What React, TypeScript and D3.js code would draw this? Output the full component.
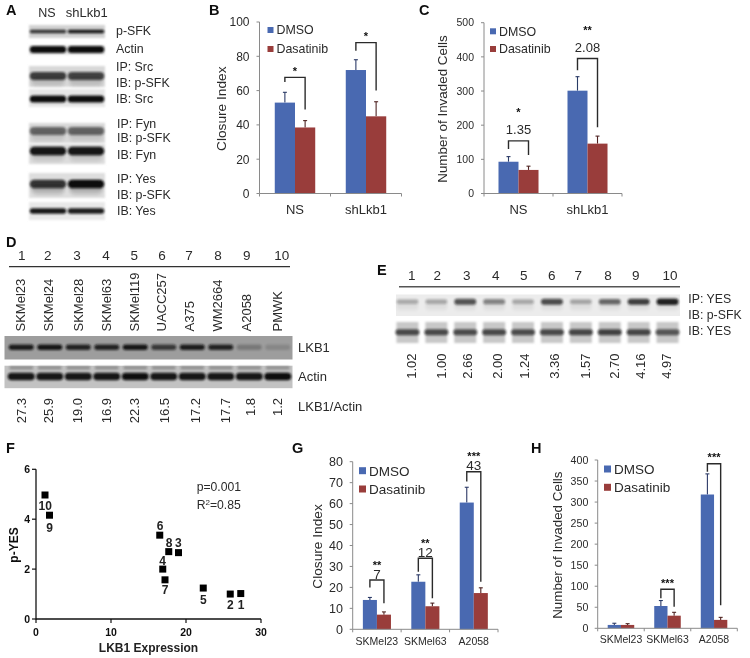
import React from "react";
import * as d3 from "d3";

// ---------- Panel A ----------
const aLanes = ["NS", "shLkb1"];
const aLabels = ["p-SFK", "Actin", "IP: Src", "IB: p-SFK", "IB: Src", "IP: Fyn", "IB: p-SFK", "IB: Fyn", "IP: Yes", "IB: p-SFK", "IB: Yes"];
const aPSfk = [0.8, 0.95];
const aActin = [1, 1];
const aIpSrc = [0.75, 0.72];
const aIbSrc = [1, 1];
const aIpFyn = [0.55, 0.55];
const aIbFyn = [0.95, 0.95];
const aIpYes = [0.8, 1];
const aIbYes = [0.95, 0.92];

// ---------- Panel B ----------
const seriesNames = ["DMSO", "Dasatinib"];
const bCategories = ["NS", "shLkb1"];
const bDmso = [53, 72];
const bDmsoTop = [59, 78];
const bDasatinib = [38.5, 45];
const bDasatinibTop = [42.5, 53.5];
const bTicks = [0, 20, 40, 60, 80, 100];
const bBracketLeft = [65, 83.3];
const bBracketTop = [67.7, 88];
const bBracketRight = [49, 60];
const bStars = ["*", "*"];

// ---------- Panel C ----------
const cDmso = [93, 301];
const cDmsoTop = [108, 342];
const cDasatinib = [69, 146];
const cDasatinibTop = [80, 168];
const cTicks = [0, 100, 200, 300, 400, 500];
const cBracketLeft = [130, 361];
const cBracketTop = [154, 395];
const cBracketRight = [113, 194];
const cStars = ["*", "**"];
const cFold = ["1.35", "2.08"];

// ---------- Panel D ----------
const dLaneNumbers = ["1", "2", "3", "4", "5", "6", "7", "8", "9", "10"];
const dCellLines = ["SKMel23", "SKMel24", "SKMel28", "SKMel63", "SKMel119", "UACC257", "A375", "WM2664", "A2058", "PMWK"];
const dRatio = ["27.3", "25.9", "19.0", "16.9", "22.3", "16.5", "17.2", "17.7", "1.8", "1.2"];
const dLkb1Band = [0.9, 0.95, 0.85, 0.85, 0.95, 0.7, 0.9, 0.85, 0.25, 0.15];
const dActinBand = [0.95, 0.95, 0.95, 0.95, 0.98, 0.95, 0.95, 0.95, 0.95, 1];

// ---------- Panel E ----------
const eRatio = ["1.02", "1.00", "2.66", "2.00", "1.24", "3.36", "1.57", "2.70", "4.16", "4.97"];
const ePYes = [0.3, 0.32, 0.75, 0.5, 0.32, 0.78, 0.33, 0.65, 0.85, 1];
const eYes = [0.8, 0.8, 0.78, 0.8, 0.78, 0.8, 0.82, 0.85, 0.82, 0.72];

// ---------- Panel F ----------
const fLkb1 = [27.3, 25.9, 19.0, 16.9, 22.3, 16.5, 17.2, 17.7, 1.8, 1.2];
const fPYes = [1.02, 1.0, 2.66, 2.0, 1.24, 3.36, 1.57, 2.7, 4.16, 4.97];
const fXTicks = [0, 10, 20, 30];
const fYTicks = [0, 2, 4, 6];

// ---------- Panel G ----------
const gCategories = ["SKMel23", "SKMel63", "A2058"];
const gDmso = [14, 22.7, 60.5];
const gDmsoTop = [15.2, 26, 67.8];
const gDasatinib = [7, 11, 17.3];
const gDasatinibTop = [8.3, 12.5, 19.8];
const gTicks = [0, 10, 20, 30, 40, 50, 60, 70, 80];
const gBracketLeft = [20, 27.5, 70.5];
const gBracketTop = [23.5, 33.9, 75.2];
const gBracketRight = [12.4, 14.8, 22.7];
const gStars = ["**", "**", "***"];
const gFold = ["7", "12", "43"];

// ---------- Panel H ----------
const hDmso = [8, 53, 318];
const hDmsoTop = [12, 66, 367];
const hDasatinib = [8, 30, 20];
const hDasatinibTop = [11, 38, 26];
const hTicks = [0, 50, 100, 150, 200, 250, 300, 350, 400];
const hBracketLeft: (number | null)[] = [null, 71.4, 372];
const hBracketTop: (number | null)[] = [null, 92.7, 391];
const hBracketRight: (number | null)[] = [null, 51, 55];
const hStars = ["", "***", "***"];

const FONT = "'Liberation Sans', Arial, sans-serif";
const BLUE = "#4a69b1";
const RED = "#993d3b";
const AXIS = "#8a8a8a";
const INK = "#2a2a2a";

type BarProps = {
  x0: number; x1: number; y0: number; y1: number; max: number;
  categories: string[]; dmso: number[]; dmsoTop: number[]; das: number[]; dasTop: number[];
  ticks: number[]; tickSize: number; title: string; titleX: number; titleSize: number; tickRight: number;
  catSize: number; catY: number; legendX: number; legendY: number[]; legendSize: number; swatch: number;
  bLeft: (number | null)[]; bTop: (number | null)[]; bRight: (number | null)[]; stars: string[];
  fold?: string[]; foldGap?: number; foldSize?: number; starGap: number; barFrac: number;
};

function BarPanel(p: BarProps) {
  const y = d3.scaleLinear().domain([0, p.max]).range([p.y0, p.y1]);
  const x = d3.scaleBand<string>().domain(p.categories).range([p.x0, p.x1]);
  const bw = x.bandwidth() * p.barFrac;
  const cx = (c: string) => (x(c) as number) + x.bandwidth() / 2;
  const titleY = (p.y0 + p.y1) / 2 + 1;
  return (
    <g fontFamily={FONT} fill={INK}>
      {p.categories.map((c, i) => {
        const m = cx(c);
        const rows = [
          { v: p.dmso[i], t: p.dmsoTop[i], f: BLUE, s: "#2b3a66", l: m - bw },
          { v: p.das[i], t: p.dasTop[i], f: RED, s: "#4f2422", l: m },
        ];
        return (
          <g key={c}>
            {rows.map((r, j) => (
              <g key={j}>
                <line x1={r.l + bw / 2} x2={r.l + bw / 2} y1={y(r.v)} y2={y(r.t)} stroke={r.s} strokeWidth={1.1} />
                <line x1={r.l + bw / 2 - 2} x2={r.l + bw / 2 + 2} y1={y(r.t)} y2={y(r.t)} stroke={r.s} strokeWidth={1.1} />
                <rect x={r.l} y={y(r.v)} width={bw} height={y(0) - y(r.v)} fill={r.f} />
              </g>
            ))}
            <text x={m} y={p.catY} textAnchor="middle" fontSize={p.catSize}>{c}</text>
          </g>
        );
      })}
      <line x1={p.x0} x2={p.x0} y1={p.y0} y2={p.y1} stroke={AXIS} />
      <line x1={p.x0} x2={p.x1} y1={p.y0} y2={p.y0} stroke={AXIS} />
      {p.categories.map((c) => (
        <line key={c} x1={(x(c) as number)} x2={(x(c) as number)} y1={p.y0} y2={p.y0 + 3} stroke={AXIS} />
      ))}
      <line x1={p.x1} x2={p.x1} y1={p.y0} y2={p.y0 + 3} stroke={AXIS} />
      {p.ticks.map((t) => (
        <g key={t}>
          <line x1={p.x0 - 3} x2={p.x0} y1={y(t)} y2={y(t)} stroke={AXIS} />
          <text x={p.tickRight} y={y(t)} dy="0.36em" textAnchor="end" fontSize={p.tickSize}>{t}</text>
        </g>
      ))}
      <text transform={`translate(${p.titleX},${titleY}) rotate(-90)`} textAnchor="middle" fontSize={p.titleSize}>{p.title}</text>
      {seriesNames.map((n, i) => (
        <g key={n}>
          <rect x={p.legendX} y={p.legendY[i] - p.swatch / 2} width={p.swatch} height={p.swatch} fill={i === 0 ? BLUE : RED} />
          <text x={p.legendX + p.swatch + 3} y={p.legendY[i]} dy="0.36em" fontSize={p.legendSize}>{n}</text>
        </g>
      ))}
      {p.categories.map((c, i) => {
        const l = p.bLeft[i], t = p.bTop[i], r = p.bRight[i];
        if (l === null || t === null || r === null) return null;
        const m = cx(c);
        const xl = m - bw / 2, xr = m + bw / 2;
        const path = d3.path();
        path.moveTo(xl, y(l));
        path.lineTo(xl, y(t));
        path.lineTo(xr, y(t));
        path.lineTo(xr, y(r));
        return (
          <g key={c}>
            <path d={path.toString()} fill="none" stroke="#2c2c2c" strokeWidth={1.4} />
            {p.fold && <text x={m} y={y(t) - (p.foldGap as number)} textAnchor="middle" fontSize={p.foldSize}>{p.fold[i]}</text>}
            <text x={m} y={y(t) - p.starGap + 5.5} textAnchor="middle" fontSize={11} fontWeight="bold" fill="#111">{p.stars[i]}</text>
          </g>
        );
      })}
    </g>
  );
}

function Band({ x, y, w, h, o, id = "b1" }: { x: number; y: number; w: number; h: number; o: number; id?: string }) {
  return <rect x={x - w / 2} y={y - h / 2} width={w} height={h} rx={h / 2} fill="#111" opacity={o} filter={`url(#${id})`} />;
}

function PanelA() {
  const lane = d3.scaleBand<string>().domain(aLanes).range([29, 105]);
  const rows = [
    { v: aPSfk, t: 25, b: 38, c: 31.5, h: 3.5, bg: "#d2d2d2", hz: 0 },
    { v: aActin, t: 45, b: 55, c: 49.5, h: 7, bg: "#e8e8e8", hz: 0 },
    { v: aIpSrc, t: 66, b: 87, c: 76, h: 8, bg: "#d8d8d8", hz: 0.15 },
    { v: aIbSrc, t: 89, b: 107, c: 99, h: 7, bg: "#e6e6e6", hz: 0 },
    { v: aIpFyn, t: 123, b: 143, c: 131, h: 8, bg: "#d8d8d8", hz: 0.1 },
    { v: aIbFyn, t: 144, b: 164, c: 151, h: 8.5, bg: "#dcdcdc", hz: 0.12 },
    { v: aIpYes, t: 173, b: 198, c: 184, h: 8.5, bg: "#dedede", hz: 0.22 },
    { v: aIbYes, t: 202, b: 220, c: 211, h: 5.5, bg: "#e8e8e8", hz: 0 },
  ];
  const labelY = [31, 48.5, 67, 82.5, 99, 123.5, 138, 155, 179, 194.5, 211];
  return (
    <g fontFamily={FONT} fill={INK}>
      {rows.map((r, i) => (
        <g key={i}>
          <rect x={29} y={r.t} width={76} height={r.b - r.t} fill={r.bg} filter="url(#b3)" />
          {aLanes.map((n, j) => (
            <g key={n}>
              {r.hz > 0 && <Band x={(lane(n) as number) + lane.bandwidth() / 2} y={r.c + 4} w={34} h={r.h + 3} o={r.hz} id="b2" />}
              <Band x={(lane(n) as number) + lane.bandwidth() / 2} y={r.c} w={36.5} h={r.h} o={r.v[j]} />
            </g>
          ))}
        </g>
      ))}
      <text x={47} y={17} textAnchor="middle" fontSize={12.5}>NS</text>
      <text x={86.7} y={17} textAnchor="middle" fontSize={13}>shLkb1</text>
      {aLabels.map((l, i) => (
        <text key={i} x={i < 5 ? 116 : 117} y={labelY[i]} dy="0.36em" fontSize={12.4}>{l}</text>
      ))}
    </g>
  );
}

function PanelD() {
  const lane = d3.scaleBand<string>().domain(dLaneNumbers).range([7, 292]);
  const cx = (n: string) => (lane(n) as number) + lane.bandwidth() / 2;
  const numX = [21.7, 47.7, 77, 106, 134.3, 162, 189, 218, 246.7, 281.7];
  const lineX = [20.7, 48, 78, 106.7, 134, 161, 189, 217, 246.7, 277];
  const ratioX = [21.7, 48, 77, 106, 134, 164, 195.7, 225.7, 250, 277];
  return (
    <g fontFamily={FONT} fill={INK}>
      {dLaneNumbers.map((n, i) => (
        <text key={n} x={numX[i]} y={260} textAnchor="middle" fontSize={13.5}>{n}</text>
      ))}
      <line x1={9} x2={290} y1={266.7} y2={266.7} stroke="#333" strokeWidth={1.2} />
      {dCellLines.map((n, i) => (
        <text key={n} transform={`translate(${lineX[i] + 4.5},331.5) rotate(-90)`} fontSize={13}>{n}</text>
      ))}
      <rect x={4.5} y={336} width={288} height={23.5} fill="#9d9d9d" />
      {dLkb1Band.map((v, i) => (
        <Band key={i} x={cx(dLaneNumbers[i])} y={347.3} w={25} h={5.5} o={v} />
      ))}
      <rect x={4.5} y={365.7} width={288} height={22.5} fill="#c2c2c2" />
      {dActinBand.map((v, i) => (
        <g key={i}>
          <Band x={cx(dLaneNumbers[i])} y={367.8} w={24} h={3} o={0.3} />
          <Band x={cx(dLaneNumbers[i])} y={376.5} w={27} h={7.5} o={v} />
        </g>
      ))}
      {dRatio.map((n, i) => (
        <text key={i} transform={`translate(${ratioX[i] + 4.5},398) rotate(-90)`} textAnchor="end" fontSize={13}>{n}</text>
      ))}
      <text x={298} y={347.3} dy="0.36em" fontSize={13}>LKB1</text>
      <text x={298} y={376.5} dy="0.36em" fontSize={13}>Actin</text>
      <text x={298} y={406.7} dy="0.36em" fontSize={13}>LKB1/Actin</text>
    </g>
  );
}

function PanelE() {
  const lane = d3.scaleBand<string>().domain(dLaneNumbers).range([393, 682]);
  const cx = (n: string) => (lane(n) as number) + lane.bandwidth() / 2;
  const numX = [411.7, 437.3, 466.7, 495.7, 523.7, 551.7, 578.3, 608, 635.7, 670];
  const ratioX = [411.7, 441.7, 467.7, 497.3, 524, 554, 585, 614.3, 640, 666.7];
  return (
    <g fontFamily={FONT} fill={INK}>
      {dLaneNumbers.map((n, i) => (
        <text key={n} x={numX[i]} y={280} textAnchor="middle" fontSize={13.5}>{n}</text>
      ))}
      <line x1={399} x2={680} y1={286.7} y2={286.7} stroke="#555" strokeWidth={1.6} />
      <rect x={396} y={294.5} width={284} height={21.5} fill="#ececec" />
      {ePYes.map((v, i) => (
        <g key={i}>
          <Band x={cx(dLaneNumbers[i])} y={306} w={22} h={7} o={0.07} id="b2" />
          <Band x={cx(dLaneNumbers[i])} y={301.7} w={22} h={4 + v * 2.5} o={v * 0.9} />
        </g>
      ))}
      {eYes.map((v, i) => (
        <g key={i}>
          <rect x={cx(dLaneNumbers[i]) - 11} y={322} width={22} height={21} fill="#c8c8c8" filter="url(#b3)" />
          <Band x={cx(dLaneNumbers[i])} y={332.3} w={24} h={6} o={v * 0.85} />
        </g>
      ))}
      <text x={688.3} y={299} dy="0.36em" fontSize={12.3}>IP: YES</text>
      <text x={688.3} y={314.3} dy="0.36em" fontSize={12.3}>IB: p-SFK</text>
      <text x={688.3} y={331} dy="0.36em" fontSize={12.3}>IB: YES</text>
      {eRatio.map((n, i) => (
        <text key={i} transform={`translate(${ratioX[i] + 4.5},353.5) rotate(-90)`} textAnchor="end" fontSize={13}>{n}</text>
      ))}
    </g>
  );
}

function PanelF() {
  const x = d3.scaleLinear().domain([0, 30]).range([36, 261]);
  const y = d3.scaleLinear().domain([0, 6]).range([619, 469.3]);
  const s = 7;
  const labelX = [241, 230.3, 178.3, 162.7, 203.3, 160, 165, 169, 49.7, 45.3];
  const labelY = [609, 609, 546.7, 564.7, 604, 530, 594, 546.7, 531.7, 510];
  return (
    <g fontFamily={FONT} fill="#111">
      <line x1={x(0)} x2={x(0)} y1={y(0) + 0.6} y2={y(6)} stroke="#111" strokeWidth={1.3} />
      <line x1={x(0)} x2={x(30)} y1={y(0)} y2={y(0)} stroke="#111" strokeWidth={1.3} />
      {fXTicks.map((t) => (
        <g key={t}>
          <line x1={x(t)} x2={x(t)} y1={y(0)} y2={y(0) + 4} stroke="#111" strokeWidth={1.2} />
          <text x={x(t)} y={636} textAnchor="middle" fontSize={10.5} fontWeight="bold">{t}</text>
        </g>
      ))}
      {fYTicks.map((t) => (
        <g key={t}>
          <line x1={x(0) - 4} x2={x(0)} y1={y(t)} y2={y(t)} stroke="#111" strokeWidth={1.2} />
          <text x={30} y={y(t)} dy="0.36em" textAnchor="end" fontSize={10.5} fontWeight="bold">{t}</text>
        </g>
      ))}
      {fLkb1.map((v, i) => (
        <g key={i}>
          <rect x={x(v) - s / 2} y={y(fPYes[i]) - s / 2} width={s} height={s} fill="#000" />
          <text x={labelX[i]} y={labelY[i]} textAnchor="middle" fontSize={12} fontWeight="bold" fill="#222">{dLaneNumbers[i]}</text>
        </g>
      ))}
      <text x={196.7} y={490.7} fontSize={12.2} fill={INK}>p=0.001</text>
      <text x={196.7} y={509} fontSize={12.2} fill={INK}>R<tspan fontSize={8} dy={-4}>2</tspan><tspan dy={4}>=0.85</tspan></text>
      <text transform="translate(18,545) rotate(-90)" textAnchor="middle" fontSize={12} fontWeight="bold">p-YES</text>
      <text x={148.5} y={651.7} textAnchor="middle" fontSize={12} fontWeight="bold" fill="#222">LKB1 Expression</text>
    </g>
  );
}

const panelLetters: [string, number, number][] = [
  ["A", 6, 15], ["B", 209, 15], ["C", 419, 15], ["D", 6, 247],
  ["E", 377, 275], ["F", 6, 453], ["G", 292, 453], ["H", 531, 453],
];

export default function App() {
  return (
    <svg width={750} height={658} viewBox="0 0 750 658" style={{ position: "absolute", left: 0, top: 0, display: "block", background: "#fff" }}>
      <defs>
        <filter id="b1" x="-30%" y="-150%" width="160%" height="400%"><feGaussianBlur stdDeviation="1 0.9" /></filter>
        <filter id="b2" x="-30%" y="-150%" width="160%" height="400%"><feGaussianBlur stdDeviation="1.5 2" /></filter>
        <filter id="b3" x="-10%" y="-30%" width="120%" height="160%"><feGaussianBlur stdDeviation="1" /></filter>
        <filter id="soft" filterUnits="userSpaceOnUse" x="0" y="0" width="750" height="658"><feGaussianBlur stdDeviation="0.38" /></filter>
      </defs>
      <g filter="url(#soft)">
        <PanelA />
        <BarPanel x0={259.5} x1={401.5} y0={193.5} y1={22} max={100} categories={bCategories}
          dmso={bDmso} dmsoTop={bDmsoTop} das={bDasatinib} dasTop={bDasatinibTop}
          ticks={bTicks} tickSize={12} tickRight={249.5} title="Closure Index" titleX={226} titleSize={13.7}
          catSize={13} catY={214} legendX={267.5} legendY={[30, 49]} legendSize={12.4} swatch={6}
          bLeft={bBracketLeft} bTop={bBracketTop} bRight={bBracketRight} stars={bStars} starGap={8} barFrac={0.285} />
        <BarPanel x0={484} x1={622} y0={193.5} y1={22.7} max={500} categories={bCategories}
          dmso={cDmso} dmsoTop={cDmsoTop} das={cDasatinib} dasTop={cDasatinibTop}
          ticks={cTicks} tickSize={10.5} tickRight={474} title="Number of Invaded Cells" titleX={446.5} titleSize={13.4}
          catSize={13} catY={214} legendX={490} legendY={[31.3, 49]} legendSize={12.4} swatch={6}
          bLeft={cBracketLeft} bTop={cBracketTop} bRight={cBracketRight} stars={cStars}
          fold={cFold} foldGap={6.5} foldSize={13} starGap={30.5} barFrac={0.29} />
        <PanelD />
        <PanelE />
        <PanelF />
        <BarPanel x0={352.7} x1={498} y0={629.3} y1={461.7} max={80} categories={gCategories}
          dmso={gDmso} dmsoTop={gDmsoTop} das={gDasatinib} dasTop={gDasatinibTop}
          ticks={gTicks} tickSize={12.5} tickRight={343} title="Closure Index" titleX={322} titleSize={13.7}
          catSize={10.5} catY={645} legendX={359} legendY={[470.7, 489]} legendSize={13.5} swatch={7}
          bLeft={gBracketLeft} bTop={gBracketTop} bRight={gBracketRight} stars={gStars}
          fold={gFold} foldGap={1.5} foldSize={13.5} starGap={17} barFrac={0.29} />
        <BarPanel x0={597.7} x1={737.3} y0={628.3} y1={460} max={400} categories={gCategories}
          dmso={hDmso} dmsoTop={hDmsoTop} das={hDasatinib} dasTop={hDasatinibTop}
          ticks={hTicks} tickSize={10.6} tickRight={588.3} title="Number of Invaded Cells" titleX={562} titleSize={13.4}
          catSize={10.5} catY={643.3} legendX={604} legendY={[469, 487.3]} legendSize={13.5} swatch={7}
          bLeft={hBracketLeft} bTop={hBracketTop} bRight={hBracketRight} stars={hStars} starGap={8} barFrac={0.285} />
        <g fontFamily={FONT} fontWeight="bold" fontSize={14.5} fill="#111">
          {panelLetters.map(([t, x, y]) => (
            <text key={t} x={x} y={y}>{t}</text>
          ))}
        </g>
      </g>
    </svg>
  );
}
